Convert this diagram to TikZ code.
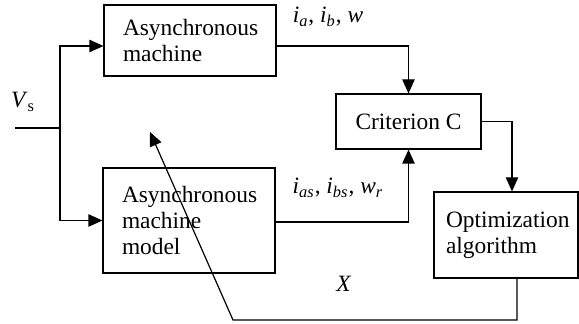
\documentclass[tikz,border=0pt]{standalone}
\usepackage{fontspec}
\setmainfont{Liberation Serif}
\usetikzlibrary{arrows.meta,calc}
\begin{document}
\begin{tikzpicture}[x=0.5pt,y=-0.5pt,
  font=\fontsize{11.7}{13}\selectfont,
  line width=0.6pt,
  box/.style={draw,rectangle,inner ysep=0pt},
  arr/.style={-{Triangle[length=7pt,width=6.2pt]}},
  lbl/.style={inner sep=0pt}]
\useasboundingbox (0,0) rectangle (579,324);
% boxes
\node[box,minimum width=86pt,minimum height=35.5pt,text width=67pt,inner xsep=9.5pt,align=left]
  (m1) at (190,40.5) {Asynchronous\\machine};
\node[box,minimum width=86pt,minimum height=52.5pt,text width=67pt,inner xsep=9.5pt,align=left]
  (m2) at (189,220.5) {Asynchronous\\machine\\model};
\node[box,minimum width=72.5pt,minimum height=27.5pt,align=center]
  (crit) at (408.5,121.5) {Criterion C};
\node[box,minimum width=72pt,minimum height=43pt,text width=60pt,inner xsep=6pt,align=left]
  (opt) at (506,235) {Optimization\\algorithm\\[3pt]};
% labels
\node[lbl] (vs) at (23,102) {\textit{V}\textsubscript{s}};
\node[lbl] (l1) at (328,17) {\textit{i}\textsubscript{\textit{a}}, \textit{i}\textsubscript{\textit{b}}, \textit{w}};
\node[lbl] (l2) at (338,188) {\textit{i}\textsubscript{\textit{as}}, \textit{i}\textsubscript{\textit{bs}}, \textit{w}\textsubscript{\textit{r}}};
\node[lbl] (lx) at (344,284) {\textit{X}};
% coordinates
\coordinate (in) at (15,128);
\coordinate (j) at (60,128);
\coordinate (b) at (233,320);
\coordinate (tip) at (150,132);
% connectors
\draw (in) -- (j);
\draw[arr] (j) |- (m1.west |- 0,46);
\draw[arr] (j) |- (m2.west);
\draw[arr] (m1.east |- 0,46) -| (crit.north);
\draw[arr] (m2.east |- 0,222) -| (crit.south);
\draw[arr] (crit.east) -| ($(opt.north)+(6,0)$);
\draw[arr] ($(opt.south)+(11,0)$) |- (b) -- (tip);
\end{tikzpicture}
\end{document}
